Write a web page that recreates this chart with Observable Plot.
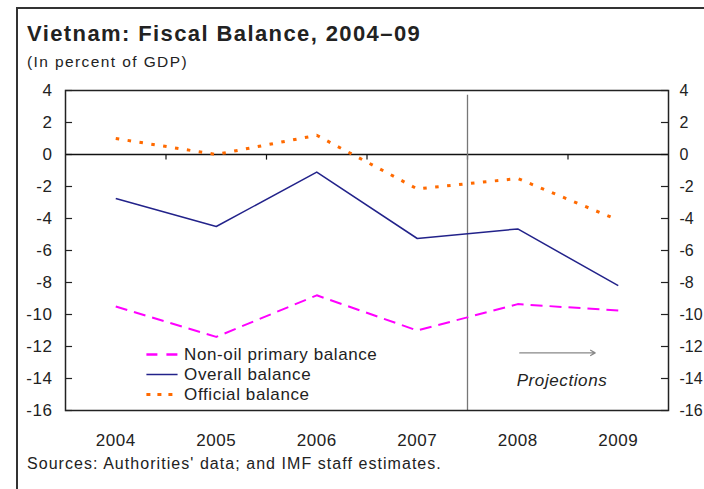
<!DOCTYPE html>
<html>
<head>
<meta charset="utf-8">
<script src="https://cdn.jsdelivr.net/npm/d3@7"></script>
<script src="https://cdn.jsdelivr.net/npm/@observablehq/plot@0.6"></script>
<style>
  html, body { margin: 0; padding: 0; background: #fff; }
  body { width: 704px; height: 489px; position: relative; overflow: hidden; font-family: "Liberation Sans", Arial, sans-serif; color: #222; }
  #frame { position: absolute; left: 16px; top: 7px; width: 700px; height: 500px; border-top: 2px solid #333; border-left: 2px solid #333; }
  #title { position: absolute; left: 27px; top: 21px; font-size: 22px; font-weight: bold; letter-spacing: 1.4px; white-space: nowrap; }
  #subtitle { position: absolute; left: 27px; top: 53px; font-size: 15.5px; letter-spacing: 1.4px; white-space: nowrap; }
  #chart { position: absolute; left: 0; top: 70px; }
  #source { position: absolute; left: 27px; top: 455px; font-size: 16px; letter-spacing: 1.05px; white-space: nowrap; }
</style>
</head>
<body>
<div id="frame"></div>
<div id="title">Vietnam: Fiscal Balance, 2004–09</div>
<div id="subtitle">(In percent of GDP)</div>
<div id="chart"></div>
<div id="source">Sources: Authorities' data; and IMF staff estimates.</div>
<script>
const years = [2004, 2005, 2006, 2007, 2008, 2009];
const nonOilPrimary = [-9.5, -11.4, -8.8, -11.0, -9.35, -9.75];
const overall = [-2.75, -4.5, -1.1, -5.25, -4.65, -8.2];
const official = [1.0, 0.0, 1.2, -2.15, -1.5, -4.1];
const yTicks = [4, 2, 0, -2, -4, -6, -8, -10, -12, -14, -16];
const seriesNames = ["Non-oil primary balance", "Overall balance", "Official balance"];
const projectionLabel = "Projections";
const projectionStart = 2008;

const colors = {nonoil: "#ff00ff", overall: "#22228a", official: "#ff6a00"};
const rows = (vals) => years.map((y, i) => ({year: y, value: vals[i]}));
const boundaries = years.slice(0, -1).map(y => y + 0.5);
const x0 = years[0] - 0.5, x1 = years[years.length - 1] + 0.5;
const yMin = d3.min(yTicks), yMax = d3.max(yTicks);

const styles = [
  {color: colors.nonoil, dash: "12,7", w: 2},
  {color: colors.overall, dash: null, w: 1.5},
  {color: colors.official, dash: "3.5,8.5", w: 3}
];
const legendDash = ["11,9", null, "4,7"];
const legendY = [-12.5, -13.75, -15.0];
const lx1 = 2004.31, lx2 = 2004.62, lxt = 2004.68;

const seriesMarks = [nonOilPrimary, overall, official].map((vals, i) =>
  Plot.line(rows(vals), {x: "year", y: "value", stroke: styles[i].color, strokeWidth: styles[i].w,
    strokeDasharray: styles[i].dash, strokeLinecap: "butt", strokeLinejoin: "round"}));
const legendMarks = seriesNames.flatMap((name, i) => [
  Plot.ruleY([legendY[i]], {x1: lx1, x2: lx2, stroke: styles[i].color, strokeWidth: styles[i].w + (i === 0 ? 0.5 : 0),
    strokeDasharray: legendDash[i], strokeLinecap: "butt"}),
  Plot.text([name], {x: lxt, y: legendY[i], text: d => d, textAnchor: "start", fill: "#222", fontSize: 17})
]);

const chart = Plot.plot({
  width: 704,
  height: 385,
  marginTop: 20,
  marginBottom: 45,
  marginLeft: 65,
  marginRight: 36,
  style: {fontFamily: "Liberation Sans, Arial, sans-serif", fontSize: "17px", color: "#222", background: "transparent"},
  x: {type: "linear", domain: [x0, x1]},
  y: {domain: [yMin, yMax]},
  marks: [
    Plot.axisX({ticks: years, tickFormat: d => String(d), tickSize: 0, tickPadding: 23, label: null, fontSize: 17}),
    Plot.axisY({anchor: "left", ticks: yTicks, tickFormat: d => String(d), tickSize: 0, tickPadding: 13, label: null, fontSize: 17}),
    Plot.axisY({anchor: "right", ticks: yTicks, tickFormat: d => String(d), tickSize: 0, tickPadding: 11, label: null, fontSize: 16}),
    Plot.ruleY(yTicks, {y: d => d, x1: x0, x2: x0 + 0.07, stroke: "#222", strokeWidth: 1.2}),
    Plot.ruleY(yTicks, {y: d => d, x1: x1 - 0.07, x2: x1, stroke: "#222", strokeWidth: 1.2}),
    Plot.ruleY([0], {stroke: "#111", strokeWidth: 1.5}),
    Plot.ruleX(boundaries, {x: d => d, y1: 0, y2: -0.35, stroke: "#111", strokeWidth: 1.2}),
    Plot.ruleX([projectionStart - 0.5], {y1: yMin, y2: yMax - 0.3, stroke: "#777", strokeWidth: 1.3}),
    ...seriesMarks,
    ...legendMarks,
    Plot.arrow([0], {x1: projectionStart + 0.02, x2: projectionStart + 0.77, y1: -12.4, y2: -12.4, stroke: "#888", strokeWidth: 1.3, headLength: 6, bend: 0}),
    Plot.text([projectionLabel], {x: projectionStart + 0.44, y: -14.1, text: d => d, fontStyle: "italic", fontSize: 17, fill: "#222"}),
    Plot.frame({stroke: "#222", strokeWidth: 1.5})
  ]
});
// widen letter spacing of texts to match the reference's wider lettering (not the right axis, which must fit)
chart.querySelectorAll("text").forEach(t => {
  const g = t.closest("g");
  const isRightAxis = g && g.getAttribute("aria-label") === "y-axis tick label" && g.getAttribute("text-anchor") === "start";
  t.style.letterSpacing = isRightAxis ? "0px" : "0.6px";
});
document.getElementById("chart").appendChild(chart);
</script>
</body>
</html>
